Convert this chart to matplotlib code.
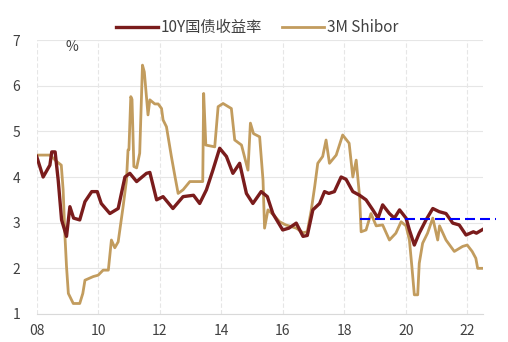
import numpy as np
import matplotlib.pyplot as plt

plt.rcParams['font.family'] = ['Noto Sans CJK SC', 'DejaVu Sans']

# 10Y国债收益率 (年份, %)
bond_x = [2008.0, 2008.21, 2008.43, 2008.49, 2008.6, 2008.7, 2008.81, 2008.97, 2009.08, 2009.2,
          2009.4, 2009.57, 2009.79, 2009.97, 2010.1, 2010.38, 2010.65, 2010.87, 2011.03, 2011.25,
          2011.57, 2011.68, 2011.9, 2012.11, 2012.43, 2012.76, 2013.1, 2013.3, 2013.52, 2013.73,
          2013.95, 2014.17, 2014.38, 2014.6, 2014.82, 2015.03, 2015.3, 2015.5, 2015.68, 2016.0,
          2016.2, 2016.44, 2016.66, 2016.8, 2016.98, 2017.2, 2017.36, 2017.5, 2017.68, 2017.9,
          2018.06, 2018.28, 2018.5, 2018.71, 2018.93, 2019.1, 2019.25, 2019.47, 2019.63, 2019.8,
          2020.01, 2020.12, 2020.28, 2020.44, 2020.66, 2020.88, 2021.09, 2021.31, 2021.53, 2021.74,
          2021.96, 2022.2, 2022.3, 2022.5]
bond_y = [4.45, 4.0, 4.26, 4.55, 4.55, 3.93, 3.06, 2.7, 3.35, 3.1,
          3.06, 3.46, 3.68, 3.68, 3.42, 3.2, 3.31, 4.0, 4.08, 3.9,
          4.08, 4.1, 3.5, 3.57, 3.31, 3.57, 3.6, 3.42, 3.72, 4.15,
          4.63, 4.45, 4.08, 4.3, 3.64, 3.42, 3.68, 3.57, 3.2, 2.84,
          2.88, 2.99, 2.7, 2.72, 3.28, 3.42, 3.68, 3.64, 3.68, 4.0,
          3.95, 3.68, 3.6, 3.5, 3.28, 3.1, 3.39, 3.2, 3.1, 3.28,
          3.1, 2.84, 2.51, 2.77, 3.06, 3.31, 3.24, 3.2, 2.99, 2.95,
          2.73, 2.8, 2.77, 2.85]

# 3M Shibor
shibor_x = [2008.0, 2008.43, 2008.65, 2008.8, 2008.86, 2008.92, 2008.97, 2009.03, 2009.19, 2009.4,
            2009.5, 2009.57, 2009.84, 2010.0, 2010.16, 2010.33, 2010.43, 2010.54, 2010.65, 2010.81,
            2010.92, 2010.97, 2011.0, 2011.06, 2011.1, 2011.16, 2011.25, 2011.35, 2011.44, 2011.5,
            2011.62, 2011.68, 2011.84, 2011.95, 2012.06, 2012.11, 2012.22, 2012.38, 2012.5, 2012.6,
            2012.76, 2012.98, 2013.4, 2013.43, 2013.5, 2013.79, 2013.9, 2014.06, 2014.33, 2014.44,
            2014.66, 2014.87, 2014.95, 2015.05, 2015.25, 2015.36, 2015.41, 2015.52, 2015.7, 2015.9,
            2016.1, 2016.44, 2016.66, 2016.8, 2016.93, 2017.04, 2017.14, 2017.3, 2017.41, 2017.52,
            2017.74, 2017.95, 2018.16, 2018.28, 2018.39, 2018.5, 2018.55, 2018.71, 2018.87, 2019.04,
            2019.25, 2019.47, 2019.68, 2019.85, 2020.01, 2020.12, 2020.2, 2020.28, 2020.39, 2020.44,
            2020.55, 2020.71, 2020.88, 2021.04, 2021.1, 2021.31, 2021.58, 2021.85, 2022.0, 2022.16,
            2022.28, 2022.34, 2022.5]
shibor_y = [4.48, 4.48, 4.34, 4.26, 3.72, 2.7, 2.04, 1.45, 1.23, 1.23,
            1.45, 1.74, 1.82, 1.85, 1.96, 1.96, 2.62, 2.45, 2.58, 3.35,
            3.93, 4.59, 4.6, 5.76, 5.7, 4.23, 4.2, 4.52, 6.45, 6.3,
            5.36, 5.69, 5.6, 5.6, 5.5, 5.25, 5.1, 4.45, 4.0, 3.64,
            3.72, 3.9, 3.9, 5.83, 4.7, 4.66, 5.54, 5.61, 5.5, 4.81,
            4.7, 4.15, 5.18, 4.95, 4.88, 3.93, 2.88, 3.28, 3.17, 3.02,
            2.95, 2.88, 2.78, 2.8, 3.28, 3.79, 4.3, 4.45, 4.81, 4.3,
            4.48, 4.92, 4.74, 4.0, 4.37, 3.57, 2.8, 2.84, 3.2, 2.93,
            2.95, 2.62, 2.77, 3.02, 2.93, 2.62, 2.04, 1.42, 1.42, 2.11,
            2.55, 2.77, 3.1, 2.62, 2.93, 2.62, 2.37, 2.48, 2.51, 2.37,
            2.22, 2.0, 2.0]

ref_x = [2018.5, 2022.93]
ref_y = [3.07, 3.07]

xticks = [2008, 2010, 2012, 2014, 2016, 2018, 2020, 2022]
xticklabels = ['08', '10', '12', '14', '16', '18', '20', '22']

fig = plt.figure(figsize=(5.08, 3.42), dpi=100)
ax = fig.add_axes([0.0722, 0.0819, 0.8778, 0.8011])

ax.plot(bond_x, bond_y, color='#7A1C1C', lw=2.4, label='10Y国债收益率', zorder=3)
ax.plot(shibor_x, shibor_y, color='#C29C5E', lw=2.0, label='3M Shibor', zorder=2)
ax.plot(ref_x, ref_y, color='#0000FF', lw=1.5, ls=(0, (4.8, 2.4)), clip_on=False, zorder=4)

ax.set_xlim(2008, 2022.5)
ax.set_ylim(1, 7)
ax.set_xticks(xticks)
ax.set_xticklabels(xticklabels)
ax.set_yticks(range(1, 8))

ax.grid(axis='y', color='#E6E6E6', lw=0.8)
ax.grid(axis='x', color='#E6E6E6', lw=0.8, ls=(0, (4, 2)))
ax.set_axisbelow(True)
for s in ['top', 'right', 'left']:
    ax.spines[s].set_visible(False)
ax.spines['bottom'].set_color('#D9D9D9')
ax.tick_params(length=0, labelsize=10, colors='#404040')
ax.tick_params(axis='x', pad=7)
ax.tick_params(axis='y', pad=12)

ax.text(2009.15, 6.85, '%', fontsize=10, color='#404040', ha='center', va='center')

ax.legend(loc='center', bbox_to_anchor=(0.495, 1.045), ncol=2, frameon=False,
          fontsize=11, handlelength=2.75, columnspacing=1.3, labelcolor='#404040',
          handletextpad=0.2)

fig.savefig('out.png', dpi=100)
